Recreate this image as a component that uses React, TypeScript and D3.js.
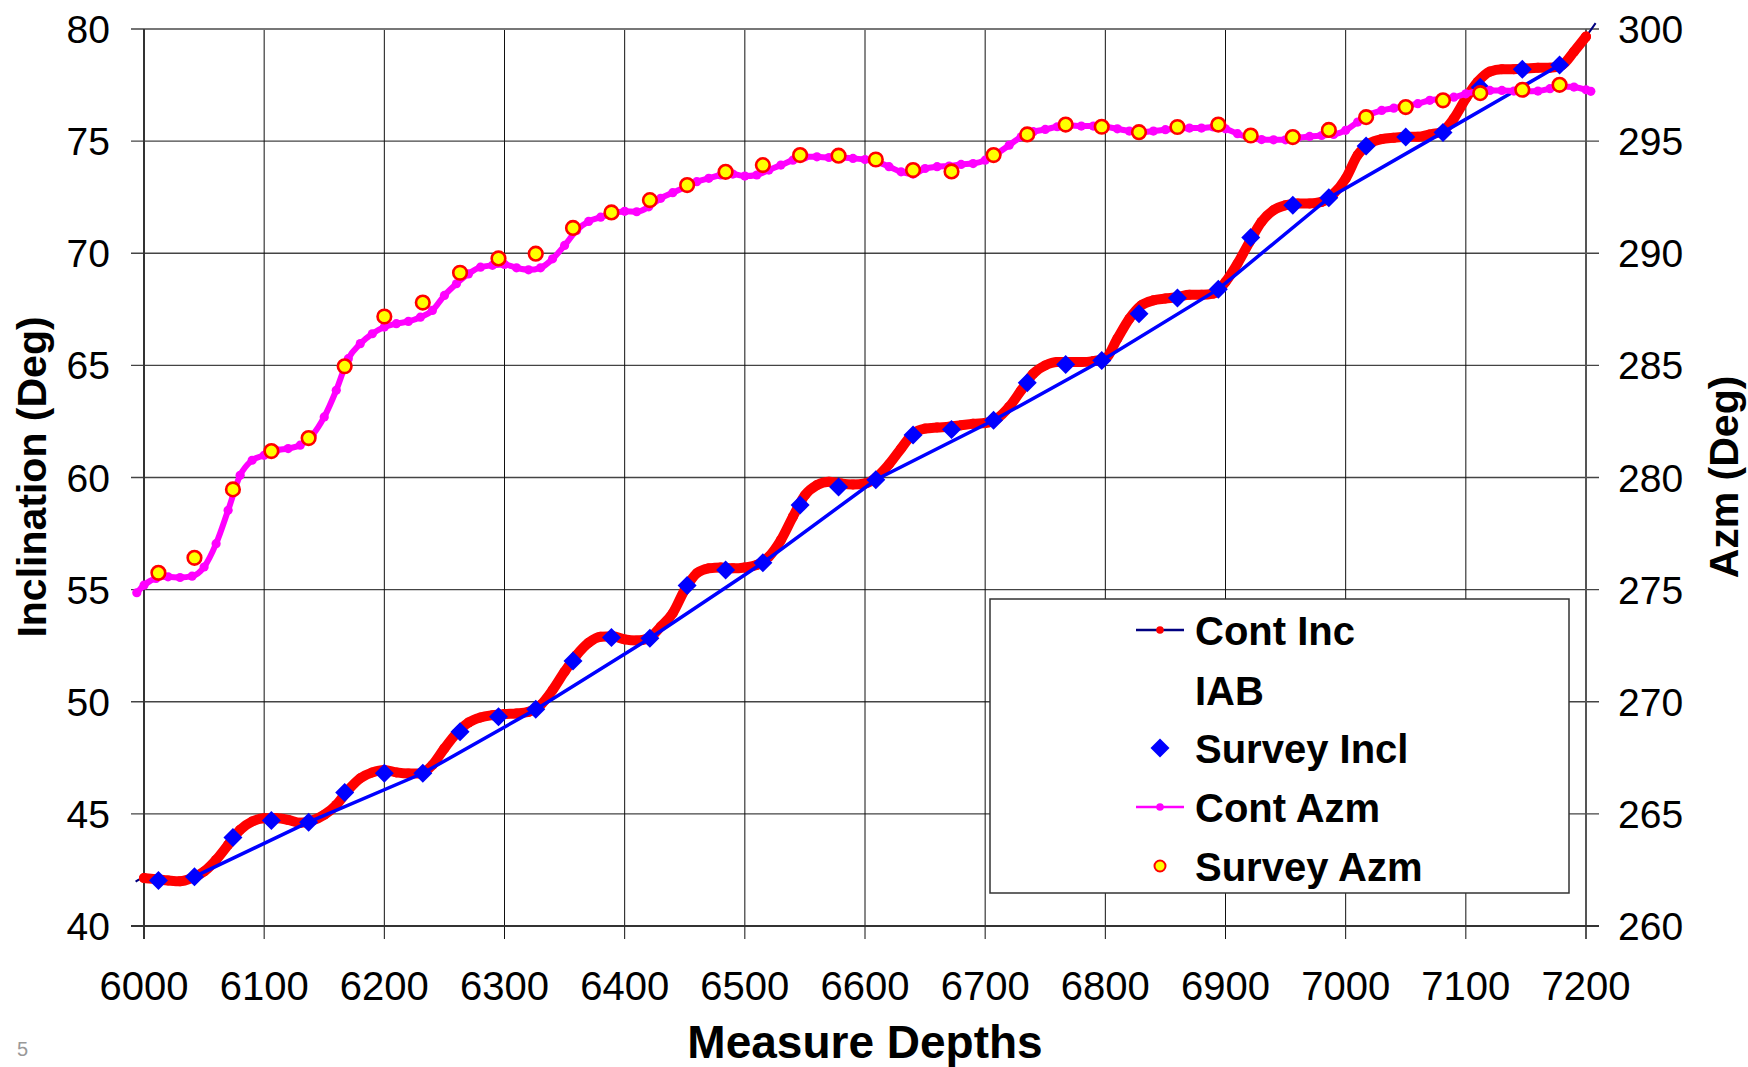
import React from 'react';
import * as d3 from 'd3';

// continuous log, sampled every 10 ft (plus the line's ends just outside the axis)
const contDepths = [5993, ...d3.range(6000, 7201, 10), 7208];
const contInc = [41.98,
  42.14, 42.09, 42.03, 41.99, 42.14, 42.43, 42.95, 43.62, 44.29, 44.66,
  44.80, 44.80, 44.73, 44.60, 44.70, 44.96, 45.40, 46.07, 46.59, 46.85,
  46.96, 46.85, 46.80, 46.80, 47.18, 47.92, 48.59, 49.07, 49.30, 49.40,
  49.45, 49.48, 49.55, 49.85, 50.52, 51.34, 52.08, 52.63, 52.90, 52.92,
  52.78, 52.73, 52.83, 53.35, 53.95, 54.99, 55.73, 55.95, 55.99, 55.95,
  55.99, 56.10, 56.47, 57.21, 58.25, 59.21, 59.66, 59.81, 59.73, 59.69,
  59.73, 60.03, 60.59, 61.29, 61.96, 62.18, 62.23, 62.26, 62.33, 62.40,
  62.43, 62.63, 63.15, 63.89, 64.63, 65.00, 65.15, 65.15, 65.15, 65.19,
  65.30, 66.19, 67.08, 67.68, 67.90, 67.98, 68.05, 68.15, 68.15, 68.20,
  68.72, 69.54, 70.50, 71.40, 71.92, 72.14, 72.22, 72.22, 72.29, 72.66,
  73.33, 74.38, 74.90, 75.09, 75.15, 75.19, 75.19, 75.30, 75.42, 76.01,
  76.90, 77.65, 78.10, 78.21, 78.21, 78.24, 78.27, 78.27, 78.39, 78.99,
  79.66,
  80.26];

const azmDepths = [5994, ...d3.range(6000, 7201, 10), 7204];
const contAzm = [274.86,
  275.20, 275.50, 275.57, 275.54, 275.60, 276.01, 277.05, 278.54, 280.10, 280.77,
  280.99, 281.21, 281.29, 281.44, 281.88, 282.70, 283.89, 285.30, 285.97, 286.41,
  286.71, 286.86, 286.96, 287.15, 287.45, 288.12, 288.64, 289.08, 289.38, 289.46,
  289.50, 289.35, 289.26, 289.35, 289.75, 290.35, 291.02, 291.42, 291.61, 291.76,
  291.87, 291.85, 292.07, 292.45, 292.70, 292.94, 293.19, 293.34, 293.49, 293.53,
  293.44, 293.49, 293.71, 293.93, 294.15, 294.30, 294.30, 294.27, 294.27, 294.23,
  294.18, 294.08, 293.86, 293.63, 293.53, 293.78, 293.86, 293.89, 293.96, 294.00,
  294.15, 294.45, 294.82, 295.19, 295.42, 295.52, 295.64, 295.71, 295.67, 295.67,
  295.64, 295.55, 295.45, 295.40, 295.45, 295.51, 295.55, 295.58, 295.58, 295.63,
  295.55, 295.33, 295.15, 295.07, 295.06, 295.06, 295.15, 295.21, 295.25, 295.30,
  295.48, 295.85, 296.18, 296.37, 296.47, 296.56, 296.67, 296.82, 296.89, 296.96,
  297.11, 297.23, 297.26, 297.26, 297.23, 297.22, 297.23, 297.34, 297.44, 297.41,
  297.29,
  297.22];

// survey stations
const surveyDepths = [6012, 6042, 6074, 6106, 6137, 6167, 6200, 6232, 6263, 6295,
  6326, 6357, 6389, 6421, 6452, 6484, 6515, 6546, 6578, 6609, 6640, 6672, 6707,
  6735, 6767, 6797, 6828, 6860, 6894, 6921, 6956, 6986, 7017, 7050, 7081, 7112,
  7147, 7178];
const surveyIncl = [42.03, 42.2, 43.95, 44.7, 44.63, 45.95, 46.81, 46.81, 48.66,
  49.33, 49.66, 51.82, 52.86, 52.83, 55.18, 55.88, 56.2, 58.77, 59.58, 59.9, 61.9,
  62.14, 62.55, 64.23, 65.04, 65.22, 67.3, 68.0, 68.4, 70.7, 72.14, 72.47, 74.78,
  75.18, 75.39, 77.4, 78.2, 78.39];
const surveyAzm = [275.75, 276.42, 279.47, 281.18, 281.76, 284.96, 287.18, 287.8,
  289.13, 289.77, 289.98, 291.13, 291.82, 292.37, 293.04, 293.63, 293.93, 294.38,
  294.35, 294.18, 293.71, 293.65, 294.38, 295.3, 295.74, 295.64, 295.4, 295.63,
  295.74, 295.25, 295.18, 295.5, 296.07, 296.52, 296.82, 297.14, 297.29, 297.51];

// IAB straight segments
const iabDepths = [6042, 6137, 6232, 6326, 6421, 6515, 6609, 6707, 6797, 6894, 6986, 7081, 7178];
const iabIncl = [42.2, 44.63, 46.81, 49.66, 52.83, 56.2, 59.9, 62.55, 65.22, 68.4, 72.47, 75.39, 78.39];

const legendItems = ['Cont Inc', 'IAB', 'Survey Incl', 'Cont Azm', 'Survey Azm'];

const W = 1748;
const H = 1067;
const font = 'Liberation Sans, Arial, sans-serif';

const diamondPath = (h: number) => `M0,${-h}L${h},0L0,${h}L${-h},0Z`;

const App = () => {
  const x = d3.scaleLinear().domain([6000, 7200]).range([144, 1586]);
  const yInc = d3.scaleLinear().domain([40, 80]).range([926, 29]);
  const yAzm = d3.scaleLinear().domain([260, 300]).range([926, 29]);

  const xTicks = x.ticks(12);
  const incTicks = yInc.ticks(8);
  const azmTicks = yAzm.ticks(8);

  const incPts = contDepths.map((d, i) => [d, contInc[i]] as [number, number]);
  const incInside = incPts.filter(p => p[0] >= 6000 && p[0] <= 7200);
  const azmPts = azmDepths.map((d, i) => [d, contAzm[i]] as [number, number]);

  const incLine = d3.line<[number, number]>()
    .x(p => x(p[0])).y(p => yInc(p[1])).curve(d3.curveMonotoneX);
  const azmLine = d3.line<[number, number]>()
    .x(p => x(p[0])).y(p => yAzm(p[1])).curve(d3.curveMonotoneX);
  const iabLine = d3.line<number>()
    .x(d => x(d)).y((d, i) => yInc(iabIncl[i]));

  const [x0, x1] = x.range();
  const [yb, yt] = yInc.range();

  const lg = { x: 990, y: 599, w: 579, h: 294 };
  const rowY = [630, 690, 748, 807, 866];
  const symX = 1160;

  return (
    <div style={{ position: 'absolute', left: 0, top: 0 }}>
      <svg width={W} height={H} viewBox={`0 0 ${W} ${H}`} style={{ display: 'block', background: '#fff' }}>
        <rect x={0} y={0} width={W} height={H} fill="#fff" />

        {/* grid */}
        {incTicks.map(t => (
          <line key={`h${t}`} x1={x0 - 13} x2={x1 + 13} y1={yInc(t)} y2={yInc(t)} stroke="#444" strokeWidth={1.4} />
        ))}
        {xTicks.map(t => (
          <line key={`v${t}`} x1={x(t)} x2={x(t)} y1={yt} y2={yb + 13} stroke="#111" strokeWidth={1} />
        ))}
        <line x1={x0} x2={x1} y1={yt} y2={yt} stroke="#777" strokeWidth={2} />
        <line x1={x1} x2={x1} y1={yt} y2={yb + 13} stroke="#555" strokeWidth={2} />
        <line x1={x0} x2={x0} y1={yt} y2={yb + 13} stroke="#333" strokeWidth={2} />
        <line x1={x0 - 13} x2={x1 + 13} y1={yb} y2={yb} stroke="#333" strokeWidth={2} />

        {/* tick labels */}
        {incTicks.map(t => (
          <text key={`li${t}`} x={110} y={yInc(t) + 14} textAnchor="end" fontFamily={font} fontSize={39} fill="#000">{t}</text>
        ))}
        {azmTicks.map(t => (
          <text key={`la${t}`} x={1618} y={yAzm(t) + 14} textAnchor="start" fontFamily={font} fontSize={39} fill="#000">{t}</text>
        ))}
        {xTicks.map(t => (
          <text key={`lx${t}`} x={x(t)} y={1000} textAnchor="middle" fontFamily={font} fontSize={40} fill="#000">{t}</text>
        ))}

        {/* axis titles */}
        <text transform="translate(46,477) rotate(-90)" textAnchor="middle" fontFamily={font} fontSize={41} fontWeight="bold">Inclination (Deg)</text>
        <text transform="translate(1738,477) rotate(-90)" textAnchor="middle" fontFamily={font} fontSize={41} fontWeight="bold">Azm (Deg)</text>
        <text x={865} y={1058} textAnchor="middle" fontFamily={font} fontSize={46} fontWeight="bold">Measure Depths</text>
        <text x={17} y={1056} fontFamily={font} fontSize={20} fill="#999">5</text>

        {/* Cont Inc */}
        <path d={incLine(incPts) ?? ''} fill="none" stroke="#000080" strokeWidth={2} />
        <path d={incLine(incInside) ?? ''} fill="none" stroke="#ff0000" strokeWidth={10} strokeLinejoin="round" strokeLinecap="round" />
        {incInside.map((p, i) => (
          <circle key={`ci${i}`} cx={x(p[0])} cy={yInc(p[1])} r={5} fill="#ff0000" />
        ))}

        {/* IAB */}
        <path d={iabLine(iabDepths) ?? ''} fill="none" stroke="#0000ff" strokeWidth={3.5} />

        {/* Survey Incl */}
        {surveyDepths.map((d, i) => (
          <path key={`si${i}`} d={diamondPath(9.5)} transform={`translate(${x(d)},${yInc(surveyIncl[i])})`} fill="#0000ff" />
        ))}

        {/* Cont Azm */}
        <path d={azmLine(azmPts) ?? ''} fill="none" stroke="#ff00ff" strokeWidth={6} strokeLinejoin="round" strokeLinecap="round" />
        {azmPts.map((p, i) => (
          <circle key={`ca${i}`} cx={x(p[0])} cy={yAzm(p[1])} r={4.6} fill="#ff00ff" />
        ))}

        {/* Survey Azm */}
        {surveyDepths.map((d, i) => (
          <circle key={`sa${i}`} cx={x(d)} cy={yAzm(surveyAzm[i])} r={6.8} fill="#ffff00" stroke="#ff0000" strokeWidth={2.6} />
        ))}

        {/* legend */}
        <rect x={lg.x} y={lg.y} width={lg.w} height={lg.h} fill="#fff" stroke="#333" strokeWidth={1.5} />
        <line x1={symX - 24} x2={symX + 24} y1={rowY[0]} y2={rowY[0]} stroke="#000080" strokeWidth={2.5} />
        <circle cx={symX} cy={rowY[0]} r={3.8} fill="#ff0000" />
        <path d={diamondPath(9.5)} transform={`translate(${symX},${rowY[2]})`} fill="#0000ff" />
        <line x1={symX - 24} x2={symX + 24} y1={rowY[3]} y2={rowY[3]} stroke="#ff00ff" strokeWidth={2.5} />
        <circle cx={symX} cy={rowY[3]} r={3.8} fill="#ff00ff" />
        <circle cx={symX} cy={rowY[4]} r={5.5} fill="#ffff00" stroke="#ff0000" strokeWidth={2} />
        {legendItems.map((name, i) => (
          <text key={name} x={1195} y={rowY[i] + 15} fontFamily={font} fontSize={40} fontWeight="bold" fill="#000">{name}</text>
        ))}
      </svg>
    </div>
  );
};

export default App;
